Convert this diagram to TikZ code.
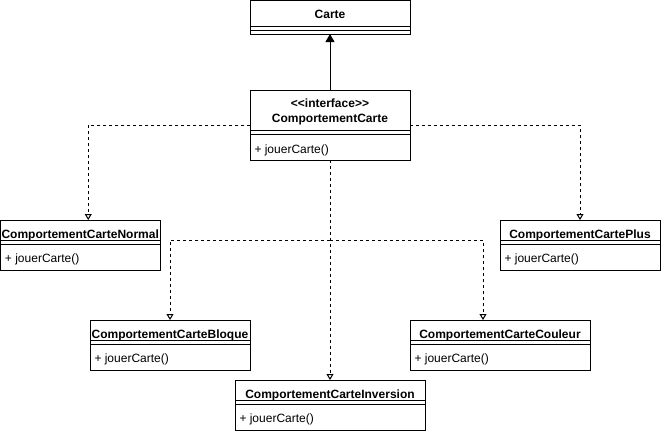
\documentclass[tikz,border=0pt]{standalone}
\usepackage{fontspec}
\newfontfamily\umlfont{Liberation Sans}
\usetikzlibrary{arrows.meta}
\newcommand\subcls[5]{% name, left, top, width, title
  \node[box, minimum width=#4pt, minimum height=50pt] (#1) at ({#2+#4/2},{#3+25}) {};
  \node[ttl] (#1-t) at ({#2+#4/2},{#3+18}) {#5};
  \draw ([yshift=5pt]#1.west) -- ([yshift=5pt]#1.east);
  \draw ([yshift=1pt]#1.west) -- ([yshift=1pt]#1.east);
  \node[meth] (#1-m) at ([xshift=4pt,yshift=-17.5pt]#1.west) {+ jouerCarte()};
}
\begin{document}
\begin{tikzpicture}[x=1pt,y=-1pt, line width=1pt,
  box/.style={draw, rectangle, inner sep=0pt, outer sep=0pt, line width=1pt},
  ttl/.style={font=\umlfont\fontsize{12}{14}\selectfont\bfseries, anchor=base, inner sep=0pt},
  meth/.style={font=\umlfont\fontsize{12}{14}\selectfont, anchor=base west, inner sep=0pt},
  dep/.style={dash pattern=on 3pt off 3pt, -{Triangle[open,length=6pt,width=7pt]}},
  assoc/.style={-{Triangle[length=8pt,width=9pt]}}]
\useasboundingbox (0,0) rectangle (661,434);

% Carte
\node[box, minimum width=160pt, minimum height=33.5pt] (carte) at (330,17.25) {};
\node[ttl] (carte-t) at (330,18) {Carte};
\draw (250,26) -- (410,26);
\draw (250,30) -- (410,30);

% Interface
\node[box, minimum width=160pt, minimum height=70pt] (iface) at (330,125) {};
\node[ttl] (iface-s) at (330,107) {<<interface>>};
\node[ttl] (iface-t) at (330,122) {ComportementCarte};
\draw (250,130) -- (410,130);
\draw (250,134) -- (410,134);
\node[meth] (iface-m) at (254,153.5) {+ jouerCarte()};

% Subclasses
\subcls{normal}{0.5}{220}{159.5}{ComportementCarteNormal}
\subcls{plus}{500}{220}{160}{ComportementCartePlus}
\subcls{bloque}{90}{320}{160}{ComportementCarteBloque}
\subcls{couleur}{410}{320}{180}{ComportementCarteCouleur}
\subcls{inv}{235}{380}{190}{ComportementCarteInversion}

% Connectors
\draw[assoc] (iface.north) -- (carte.south);
\draw[dep] (iface.west) -| ([xshift=8pt]normal.north);
\draw[dep] (iface.east) -| (plus.north);
\draw[dep] (iface.south) -- (inv.north);
\coordinate (split) at (330,240);
\draw[dep] (split) -| (bloque.north);
\draw[dep] (split) -| ([xshift=-17pt]couleur.north);
\end{tikzpicture}
\end{document}
